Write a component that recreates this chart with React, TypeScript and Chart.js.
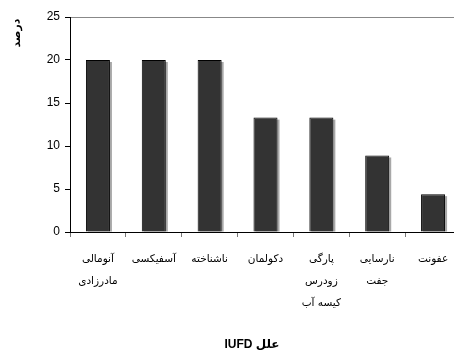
import React, { useEffect, useRef } from "react";
import { Chart, registerables } from "chart.js";

Chart.register(...registerables);

const categories: string[][] = [
  ["آنومالی", "مادرزادی"],
  ["آسفیکسی"],
  ["ناشناخته"],
  ["دکولمان"],
  ["پارگی", "زودرس", "کیسه آب"],
  ["نارسایی", "جفت"],
  ["عفونت"],
];
const values: number[] = [20, 20, 20, 13.3, 13.3, 8.9, 4.4];
const yTitle = "درصد";
const xTitle = "علل IUFD";
const yMax = 25;
const yStep = 5;

const shadowPlugin = {
  id: "barShadow",
  beforeDatasetsDraw(chart: any) {
    const ctx = chart.ctx;
    const meta = chart.getDatasetMeta(0);
    ctx.save();
    ctx.fillStyle = "#a8a8a8";
    meta.data.forEach((bar: any) => {
      const w = bar.width;
      const left = bar.x - w / 2;
      const top = bar.y;
      const h = bar.base - bar.y;
      ctx.fillRect(left + 2, top + 2, w, h - 2);
    });
    ctx.restore();
  },
};

const titlesPlugin = {
  id: "customTitles",
  afterDraw(chart: any) {
    const ctx = chart.ctx;
    const area = chart.chartArea;
    ctx.save();
    ctx.fillStyle = "#000";
    ctx.font = "bold 11px 'DejaVu Sans', sans-serif";
    ctx.textAlign = "center";
    ctx.textBaseline = "middle";
    ctx.translate(17, area.top + 16);
    ctx.rotate(-Math.PI / 2);
    ctx.fillText(yTitle, 0, 0);
    ctx.restore();

    ctx.save();
    ctx.fillStyle = "#000";
    ctx.font = "bold 12px 'Liberation Sans', 'DejaVu Sans', sans-serif";
    ctx.textAlign = "center";
    ctx.textBaseline = "middle";
    (ctx as any).direction = "rtl";
    ctx.fillText(xTitle, area.left + 182, 345);
    ctx.restore();
  },
};

export default function App() {
  const ref = useRef<HTMLCanvasElement | null>(null);
  useEffect(() => {
    if (!ref.current) return;
    const chart = new Chart(ref.current, {
      type: "bar",
      data: {
        labels: categories,
        datasets: [
          {
            data: values,
            backgroundColor: "#333333",
            borderColor: "#000000",
            borderWidth: 1,
            categoryPercentage: 1,
            barPercentage: 0.43,
          },
        ],
      },
      options: {
        responsive: false,
        animation: false,
        events: [],
        layout: { padding: { left: 0, top: 17, right: 1, bottom: 0 } },
        plugins: { legend: { display: false }, tooltip: { enabled: false } },
        scales: {
          x: {
            afterFit: (s: any) => {
              s.height = 121;
            },
            grid: {
              display: true,
              drawOnChartArea: false,
              drawTicks: true,
              tickLength: 5,
              tickColor: "#777",
              offset: true,
            },
            border: { display: true, color: "#000", width: 1 },
            ticks: {
              color: "#000",
              autoSkip: false,
              maxRotation: 0,
              minRotation: 0,
              padding: 11,
              font: { family: "'DejaVu Sans', sans-serif", size: 10.5, lineHeight: "22px" } as any,
            },
          },
          y: {
            min: 0,
            max: yMax,
            afterFit: (s: any) => {
              s.width = 70;
            },
            grid: {
              display: true,
              drawOnChartArea: true,
              drawTicks: true,
              tickLength: 5,
              tickColor: "#000",
              color: (c: any) => (c.tick && c.tick.value === yMax ? "#888" : "rgba(0,0,0,0)"),
            },
            border: { display: true, color: "#000", width: 1 },
            ticks: {
              stepSize: yStep,
              color: "#000",
              padding: 5,
              font: { family: "'Liberation Sans', Arial, sans-serif", size: 12 },
            },
          },
        },
      },
      plugins: [shadowPlugin, titlesPlugin],
    });
    return () => chart.destroy();
  }, []);
  return (
    <div style={{ position: "fixed", left: 0, top: 0, width: 454, height: 353, overflow: "hidden", background: "#fff" }}>
      <canvas ref={ref} width={462} height={353} style={{ display: "block" }} />
    </div>
  );
}
